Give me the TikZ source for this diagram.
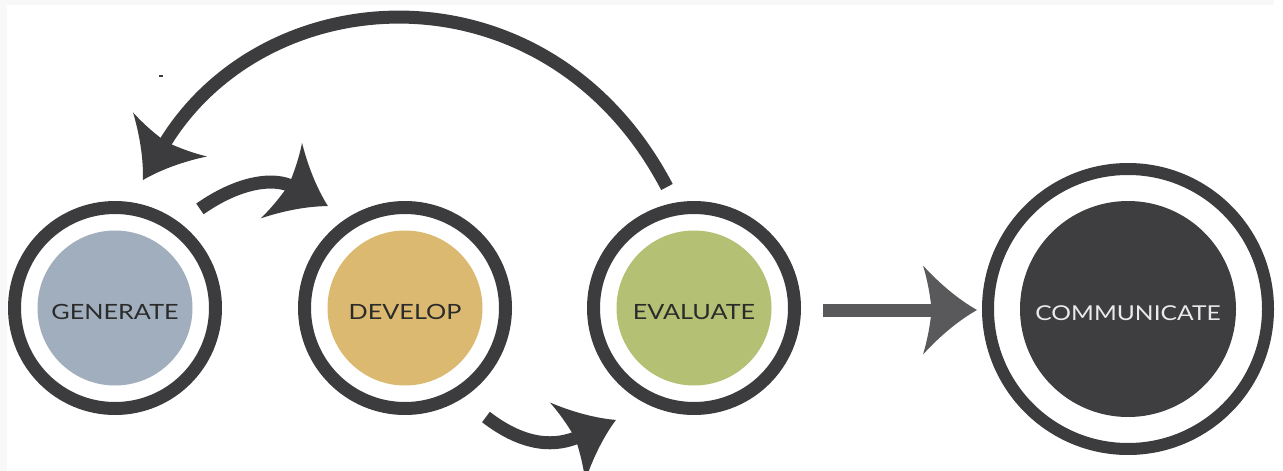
\documentclass[tikz,border=0pt]{standalone}
\usepackage{fontspec}
\setmainfont{Lato}
\newfontfamily\labelfont[FakeStretch=1.2]{Lato}
\usetikzlibrary{arrows.meta,calc}

\definecolor{ringc}{HTML}{3C3C3E}
\definecolor{genc}{HTML}{A1AEBD}
\definecolor{devc}{HTML}{DBB970}
\definecolor{evac}{HTML}{B4C074}
\definecolor{comc}{HTML}{3E3E40}
\definecolor{txtc}{HTML}{2B2B2B}
\definecolor{comtxt}{HTML}{EAEAEA}
\definecolor{arrc}{HTML}{59595B}
\definecolor{edgec}{HTML}{F8F8F8}

\pgfdeclarearrow{
  name = Swoosh,
  parameters = {\the\pgfarrowlength,\the\pgfarrowwidth},
  setup code = {
    \pgfarrowssettipend{0pt}
    \pgfarrowssetbackend{-\pgfarrowlength}
    \pgfarrowssetlineend{-0.75\pgfarrowlength}
    \pgfarrowssavethe\pgfarrowlength
    \pgfarrowssavethe\pgfarrowwidth
  },
  drawing code = {
    \pgfpathmoveto{\pgfpointorigin}
    \pgfpathcurveto{\pgfpoint{-0.35\pgfarrowlength}{0.12\pgfarrowwidth}}{\pgfpoint{-0.7\pgfarrowlength}{0.3\pgfarrowwidth}}{\pgfpoint{-\pgfarrowlength}{0.5\pgfarrowwidth}}
    \pgfpathcurveto{\pgfpoint{-0.9\pgfarrowlength}{0.3\pgfarrowwidth}}{\pgfpoint{-0.86\pgfarrowlength}{0.12\pgfarrowwidth}}{\pgfpoint{-0.84\pgfarrowlength}{0pt}}
    \pgfpathcurveto{\pgfpoint{-0.86\pgfarrowlength}{-0.12\pgfarrowwidth}}{\pgfpoint{-0.9\pgfarrowlength}{-0.3\pgfarrowwidth}}{\pgfpoint{-\pgfarrowlength}{-0.5\pgfarrowwidth}}
    \pgfpathcurveto{\pgfpoint{-0.7\pgfarrowlength}{-0.3\pgfarrowwidth}}{\pgfpoint{-0.35\pgfarrowlength}{-0.12\pgfarrowwidth}}{\pgfpointorigin}
    \pgfpathclose
    \pgfusepathqfill
  },
  defaults = {length = 54pt, width = 88pt}
}

\tikzset{
  ring/.style={circle, draw=ringc, line width=13pt, minimum size=201pt, inner sep=0pt, outer sep=0pt},
  bigring/.style={circle, draw=ringc, line width=12pt, minimum size=280pt, inner sep=0pt, outer sep=0pt},
  disc/.style={circle, minimum size=155pt, inner sep=0pt, outer sep=0pt, text=txtc,
    font=\labelfont\fontsize{21}{21}\selectfont, text height=23pt, text depth=0pt},
  bigdisc/.style={circle, minimum size=216pt, inner sep=0pt, outer sep=0pt, fill=comc, text=comtxt,
    font=\labelfont\fontsize{20.5}{21}\selectfont, text height=23pt, text depth=0pt},
  conn/.style={draw=ringc, line width=13pt, -{Swoosh[length=53pt,width=86pt]}},
}

\begin{document}
\begin{tikzpicture}[x=1pt,y=-1pt]
  \useasboundingbox (0,0) rectangle (1283,471);
  \clip (0,0) rectangle (1283,471);
  \fill[white] (0,0) rectangle (1283,471);
  \fill[edgec] (0,0) rectangle (1274,5);
  \fill[edgec] (0,0) rectangle (7,471);
  \fill[white] (7,5) rectangle (1283,471);

  % stages
  \node[ring] (gr) at (115,308) {};
  \node[disc, fill=genc] (gd) at (gr.center) {GENERATE};
  \node[ring] (dr) at (405,308) {};
  \node[disc, fill=devc] (dd) at (dr.center) {DEVELOP};
  \node[ring] (er) at (694,308) {};
  \node[disc, fill=evac] (ed) at (er.center) {EVALUATE};
  \node[bigring] (cr) at (1128,309) {};
  \node[bigdisc] (cd) at (cr.center) {COMMUNICATE};

  % connectors
  \draw[conn] ($(er.center)+(102.6:124pt)$) .. controls +(-119,-227) and +(122,-205) .. ($(gr.center)+(77.7:131pt)$);
  \draw[conn] ($(gr.center)+(49.4:130.5pt)$) .. controls +(40,-28) and +(-53,-29) .. ($(dr.center)+(127.1:127.8pt)$);
  \draw[conn] ($(dr.center)+(-53.4:135.8pt)$) .. controls +(39,30) and +(-60,27) .. ($(er.center)+(-124.9:136.5pt)$);
  \draw[conn, draw=arrc, -{Swoosh[length=54pt,width=89pt]}] ($(er.center)+(129,2)$) -- ($(cr.center)+(-151,1)$);

  % small mark
  \draw[ringc, line width=1.5pt] (159,76) -- (163,76);
\end{tikzpicture}
\end{document}
